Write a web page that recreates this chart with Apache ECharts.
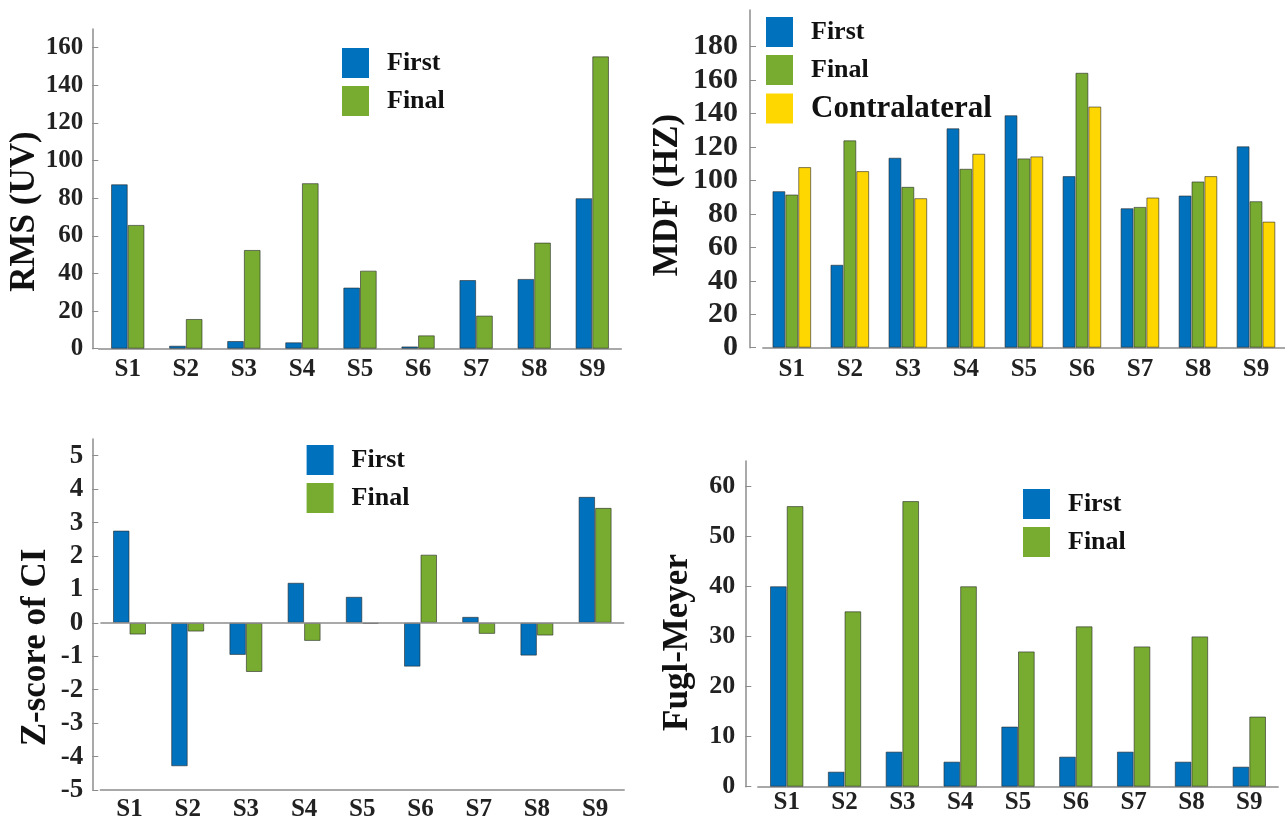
<!DOCTYPE html>
<html>
<head>
<meta charset="utf-8">
<title>EMG / CI / Fugl-Meyer</title>
<script src="https://cdn.jsdelivr.net/npm/echarts@6/dist/echarts.min.js"></script>
<style>
  html, body { margin: 0; padding: 0; background: #fff; }
  #chart { width: 1285px; height: 821px; }
</style>
</head>
<body>
<div id="chart"></div>
<script>
// 数据
const subjects = ['S1', 'S2', 'S3', 'S4', 'S5', 'S6', 'S7', 'S8', 'S9']

const rmsFirst = [87.4, 1.6, 4.1, 3.4, 32.5, 1.2, 36.5, 37.1, 80.0]
const rmsFinal = [65.8, 15.8, 52.5, 88.0, 41.5, 7.1, 17.6, 56.4, 155.4]
const rmsTicks = [0, 20, 40, 60, 80, 100, 120, 140, 160]

const mdfFirst = [93.6, 49.6, 113.6, 131.2, 139.0, 102.6, 83.4, 91.0, 120.4]
const mdfFinal = [91.6, 124.0, 96.2, 107.0, 113.2, 164.4, 84.2, 99.4, 87.6]
const mdfContra = [108.0, 105.6, 89.4, 116.0, 114.4, 144.2, 89.8, 102.6, 75.4]
const mdfTicks = [0, 20, 40, 60, 80, 100, 120, 140, 160, 180]

const zFirst = [2.76, -4.29, -0.96, 1.2, 0.78, -1.31, 0.18, -0.98, 3.77]
const zFinal = [-0.35, -0.26, -1.47, -0.54, -0.03, 2.04, -0.33, -0.38, 3.44]
const zTicks = [-5, -4, -3, -2, -1, 0, 1, 2, 3, 4, 5]

const fmFirst = [40, 3, 7, 5, 12, 6, 7, 5, 4]
const fmFinal = [56, 35, 57, 40, 27, 32, 28, 30, 14]
const fmTicks = [0, 10, 20, 30, 40, 50, 60]

const BLUE = '#0072BD'
const GREEN = '#77AC30'
const YELLOW = '#FFD700'
const AXIS = '#8c8c8c'
const FONT = "'Liberation Serif', 'Times New Roman', serif"

const chart = echarts.init(document.getElementById('chart'))

const grid = (left, right, top, bottom) => ({ left, right, top, bottom, containLabel: false, outerBoundsMode: 'none' })

const xAx = (gi, margin) => ({
  type: 'category',
  gridIndex: gi,
  data: subjects,
  axisLine: { show: true, onZero: false, lineStyle: { color: AXIS, width: 1.5 } },
  axisTick: { show: false },
  axisLabel: { margin, fontSize: 25, fontWeight: 'bold', fontFamily: FONT, color: '#222' },
  splitLine: { show: false }
})

const yAx = (gi, min, max, interval, ticks, offset, fontSize, margin) => ({
  type: 'value',
  gridIndex: gi,
  min,
  max,
  interval,
  offset,
  axisLine: { show: true, lineStyle: { color: AXIS, width: 1.5 } },
  axisTick: { show: true, inside: true, length: 6, customValues: ticks, lineStyle: { color: AXIS } },
  axisLabel: {
    customValues: ticks,
    formatter: v => (ticks.indexOf(v) >= 0 ? String(v) : ''),
    margin,
    fontSize,
    fontWeight: 'bold',
    fontFamily: FONT,
    color: '#222'
  },
  splitLine: { show: false }
})

const bars = (name, data, color, gi, width) => ({
  type: 'bar',
  name,
  data,
  xAxisIndex: gi,
  yAxisIndex: gi,
  barWidth: width,
  barGap: '0%',
  itemStyle: { color, borderColor: 'rgba(40,40,40,0.6)', borderWidth: 1 },
  emphasis: { disabled: true }
})

const legend = (left, top, items) => ({
  orient: 'vertical',
  left,
  top,
  padding: 0,
  icon: 'rect',
  itemWidth: 27,
  itemHeight: 30,
  itemGap: 8,
  selectedMode: false,
  itemStyle: { borderWidth: 0 },
  textStyle: { fontSize: 26, fontWeight: 'bold', fontFamily: FONT, color: '#111', padding: [0, 0, 0, 13] },
  data: items
})

const yTitle = (x, y, text) => ({
  type: 'text',
  x,
  y,
  rotation: Math.PI / 2,
  style: {
    text,
    font: `bold 35px ${FONT}`,
    fill: '#111',
    textAlign: 'center',
    textVerticalAlign: 'middle'
  }
})

const zBlue = bars('First', zFirst, BLUE, 2, 16.5)
zBlue.markLine = {
  silent: true,
  symbol: ['none', 'none'],
  label: { show: false },
  lineStyle: { color: AXIS, type: 'solid', width: 1.5 },
  data: [{ yAxis: 0 }]
}

const option = {
  animation: false,
  backgroundColor: '#fff',
  grid: [
    grid(98.7, 663.7, 28.9, 472.3),
    grid(762.8, 0, 9.9, 473.3),
    grid(100.4, 660.8, 439, 31),
    grid(757.8, 6.8, 461, 34.3)
  ],
  xAxis: [xAx(0, 8), xAx(1, 9), xAx(2, 7), xAx(3, 3)],
  yAxis: [
    yAx(0, 0, 170, 20, rmsTicks, 6.4, 25, 9),
    yAx(1, 0, 202, 20, mdfTicks, 12.8, 30, 12),
    yAx(2, -5, 5.5, 1, zTicks, 8.1, 27, 9),
    yAx(3, 0, 65, 10, fmTicks, 12.5, 26, 10)
  ],
  legend: [
    legend(342, 48, ['First', 'Final']),
    legend(766, 17, [
      'First',
      'Final',
      { name: 'Contralateral', textStyle: { fontSize: 31 } }
    ]),
    legend(306.6, 445, ['First', 'Final']),
    legend(1023, 489, ['First', 'Final'])
  ],
  graphic: [
    yTitle(24.6, 211.5, 'RMS (UV)'),
    yTitle(668, 195, 'MDF (HZ)'),
    yTitle(35.8, 647.5, 'Z-score of CI'),
    yTitle(678, 642.5, 'Fugl-Meyer')
  ],
  series: [
    bars('First', rmsFirst, BLUE, 0, 16.7),
    bars('Final', rmsFinal, GREEN, 0, 16.7),
    bars('First', mdfFirst, BLUE, 1, 12.9),
    bars('Final', mdfFinal, GREEN, 1, 12.9),
    bars('Contralateral', mdfContra, YELLOW, 1, 12.9),
    zBlue,
    bars('Final', zFinal, GREEN, 2, 16.5),
    bars('First', fmFirst, BLUE, 3, 16.7),
    bars('Final', fmFinal, GREEN, 3, 16.7)
  ]
}

chart.setOption(option)

window.addEventListener('resize', () => chart.resize())
</script>
</body>
</html>
